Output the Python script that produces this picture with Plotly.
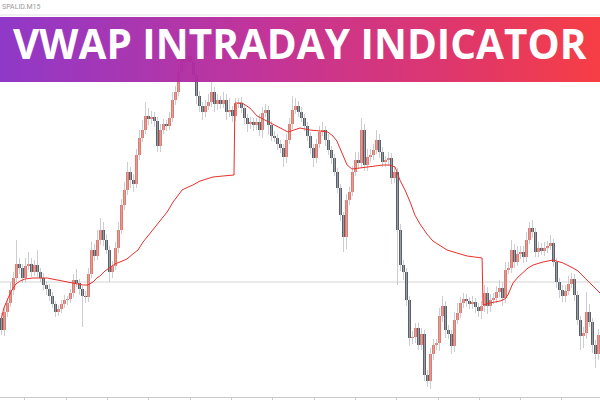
import plotly.graph_objects as go

# ---------------- data ----------------
first_open = 82
closes = [
    70, 88, 97, 110, 122, 136, 132, 122, 134, 136,
    128, 135, 128, 122, 115, 111, 104, 96, 88, 91,
    96, 100, 101, 107, 120, 117, 111, 104, 103, 126,
    150, 144, 160, 170, 160, 150, 128, 134, 152, 170,
    195, 210, 228, 220, 216, 245, 262, 270, 284, 281,
    283, 279, 254, 270, 276, 274, 282, 300, 308, 328,
    342, 338, 344, 338, 325, 304, 294, 288, 294, 298,
    308, 296, 300, 296, 300, 288, 290, 284, 296, 297,
    292, 282, 276, 278, 275, 278, 270, 287, 290, 275,
    264, 262, 256, 252, 243, 260, 276, 290, 294, 288,
    282, 274, 264, 252, 242, 256, 268, 270, 260, 250,
    242, 228, 212, 185, 163, 200, 208, 228, 240, 237,
    270, 235, 243, 245, 250, 260, 248, 238, 240, 242,
    222, 228, 170, 135, 128, 100, 62, 63, 72, 55,
    66, 25, 19, 46, 55, 57, 84, 94, 70, 66,
    54, 80, 87, 97, 101, 99, 96, 98, 93, 89,
    94, 107, 94, 100, 102, 108, 112, 102, 130, 132,
    150, 138, 146, 148, 143, 160, 172, 168, 148, 152,
    149, 152, 154, 157, 138, 118, 110, 104, 109, 116,
    121, 105, 80, 64, 67, 88, 78, 55, 46, 65,
]
upper_wick = [
    5, 6, 4, 8, 6, 24, 6, 4, 8, 12,
    6, 5, 15, 4, 5, 4, 5, 4, 3, 4,
    4, 5, 3, 4, 6, 11, 4, 3, 5, 6,
    8, 6, 10, 12, 8, 6, 4, 5, 6, 8,
    6, 8, 10, 5, 6, 6, 8, 10, 14, 8,
    6, 5, 4, 6, 5, 4, 6, 8, 6, 8,
    10, 12, 8, 6, 6, 8, 5, 4, 6, 8,
    10, 5, 6, 4, 8, 6, 12, 4, 6, 5,
    6, 4, 4, 5, 4, 4, 8, 6, 6, 4,
    4, 5, 4, 4, 4, 6, 6, 14, 8, 5,
    5, 4, 4, 4, 4, 5, 6, 8, 4, 6,
    4, 4, 4, 4, 3, 6, 5, 6, 8, 8,
    12, 6, 8, 6, 6, 10, 6, 5, 4, 6,
    5, 6, 4, 6, 5, 4, 4, 6, 5, 5,
    6, 4, 5, 6, 6, 4, 8, 10, 5, 5,
    4, 8, 10, 6, 6, 5, 4, 6, 4, 4,
    5, 8, 6, 6, 5, 6, 8, 6, 8, 6,
    10, 6, 8, 6, 6, 8, 6, 8, 4, 6,
    5, 6, 5, 8, 4, 4, 4, 5, 6, 8,
    6, 5, 4, 4, 6, 20, 8, 4, 5, 6,
]
lower_wick = [
    5, 6, 5, 4, 5, 4, 6, 5, 4, 4,
    5, 4, 5, 4, 5, 6, 5, 4, 5, 4,
    4, 4, 5, 4, 4, 4, 6, 31, 6, 5,
    4, 5, 4, 5, 6, 4, 10, 6, 4, 5,
    4, 5, 5, 8, 8, 4, 5, 4, 4, 6,
    5, 6, 6, 6, 4, 5, 4, 4, 5, 4,
    4, 6, 5, 6, 6, 8, 6, 8, 5, 4,
    5, 8, 6, 5, 4, 8, 5, 6, 5, 4,
    5, 6, 8, 5, 6, 5, 6, 8, 4, 10,
    5, 4, 6, 5, 10, 6, 4, 5, 4, 5,
    4, 5, 5, 6, 9, 5, 4, 4, 6, 5,
    6, 4, 5, 6, 15, 12, 5, 4, 4, 6,
    5, 6, 6, 5, 5, 4, 6, 5, 5, 6,
    6, 5, 55, 6, 8, 6, 8, 6, 6, 5,
    5, 6, 6, 8, 6, 5, 8, 6, 8, 5,
    8, 6, 4, 5, 5, 6, 5, 5, 6, 6,
    8, 6, 8, 6, 4, 5, 5, 8, 5, 4,
    5, 6, 4, 5, 6, 5, 4, 6, 5, 5,
    4, 5, 5, 4, 5, 6, 8, 6, 6, 4,
    4, 6, 5, 14, 12, 6, 5, 8, 14, 6,
]
vwap_bar = [
    0, 0.8, 2.2, 3.5, 4.8, 6.2, 7.8, 10.5, 15.2, 18.5, 22.8, 27.2, 28.8, 30.5,
    31.8, 32.8, 34.5, 36.2, 37.8, 39.5, 41.8, 43.8, 45.5, 47.2, 48.8, 50.5,
    52.8, 55.2, 57.2, 58.8, 60.2, 62.2, 63.8, 66.2, 68.5, 70.5, 73.8, 77.5,
    77.8, 80.2, 82.8, 85.2, 87.8, 91.8, 95.5, 99.5, 102.8, 106.2, 108.8, 110.5,
    111.8, 113.5, 115.2, 116.8, 119.5, 121.8, 124.5, 127.2, 129.5, 131.2, 132.8,
    134.5, 136.2, 137.8, 139.5, 141.8, 143.8, 146.2, 148.5, 151.8, 155.2, 157.8,
    160.2,
    160.5, 162.8, 166.2, 167.8, 168.8, 170.5, 172.2, 173.8, 175.5, 177.2, 180.5,
    183.8, 187.2, 190.5, 192.2, 193.8, 195.5, 197.2, 199.5,
]
vwap_val = [
    82, 92, 102, 110, 116, 119, 121, 122, 122, 120, 118, 115, 115, 118,
    122, 124, 129, 133, 136, 138, 141, 146, 150, 158, 164, 170,
    179, 188, 198, 205, 210, 213, 215, 219, 221, 223, 224, 225,
    297, 297, 292, 284, 280, 274, 268, 272, 270, 269, 268, 264,
    259, 247, 235, 231, 232, 233, 234, 235, 235, 233, 220,
    210, 198, 185, 176, 166, 159, 154, 150, 147, 144, 143,
    142,
    95, 97, 99, 101, 105, 117, 123, 127, 132, 135, 138,
    140, 137, 132, 129, 124, 119, 113, 107,
]
ref_price = 118
tick_bars = [7.8, 21.6, 35.4, 49.1, 62.9, 76.7, 90.4, 104.2, 118.0, 131.7,
             145.5, 159.3, 173.0, 186.8]
title_text = "VWAP INTRADAY INDICATOR"
symbol_text = "SPALID.M15"

# ---------------- derived ----------------
n = len(closes)
idx = list(range(n))
opens = [first_open] + closes[:-1]
highs = [max(o, c) + w for o, c, w in zip(opens, closes, upper_wick)]
lows = [min(o, c) - w for o, c, w in zip(opens, closes, lower_wick)]

UP = "#ef7666"
DOWN = "#5a5f68"
body_base = [min(o, c) for o, c in zip(opens, closes)]
body_h = [max(abs(c - o), 1) for o, c in zip(opens, closes)]
body_col = [UP if c >= o else DOWN for o, c in zip(opens, closes)]

wx, wy = [], []
for i, lo, hi in zip(idx, lows, highs):
    wx += [i, i, None]
    wy += [lo, hi, None]

fig = go.Figure()
fig.add_trace(go.Scatter(x=wx, y=wy, mode="lines",
                         line=dict(color="rgba(180,185,192,0.7)", width=1),
                         hoverinfo="skip", showlegend=False))
fig.add_trace(go.Bar(x=idx, y=body_h, base=body_base, width=0.75,
                     marker=dict(color=body_col, line=dict(width=0)),
                     showlegend=False))
fig.add_trace(go.Scatter(x=vwap_bar, y=vwap_val, mode="lines",
                         line=dict(color="#e8302c", width=1),
                         showlegend=False))

# banner (decoration) on overlay axes in pixel units
fig.add_trace(go.Scatter(x=[0, 600, 600, 0, 0], y=[318, 318, 383, 383, 318],
                         mode="lines", fill="toself", line=dict(width=0),
                         fillgradient=dict(type="horizontal",
                                           colorscale=[[0, "#8a2ec6"], [0.45, "#c02a92"],
                                                       [0.75, "#dc2c66"], [1, "#f6343a"]]),
                         opacity=0.95, xaxis="x2", yaxis="y2",
                         hoverinfo="skip", showlegend=False))

fig.update_layout(
    width=600, height=400,
    margin=dict(l=0, r=0, t=0, b=3),
    paper_bgcolor="white", plot_bgcolor="white",
    bargap=0,
    xaxis=dict(range=[-0.5, n - 0.5], showgrid=False, zeroline=False,
               showline=True, linecolor="#c9c9c9", linewidth=1,
               ticks="outside", ticklen=3, tickcolor="#c9c9c9",
               tickvals=tick_bars, showticklabels=False),
    yaxis=dict(range=[3, 400], visible=False),
    xaxis2=dict(range=[0, 600], overlaying="x", visible=False),
    yaxis2=dict(range=[3, 400], overlaying="y", visible=False),
    shapes=[
        dict(type="line", xref="paper", x0=0, x1=1, yref="y", y0=ref_price, y1=ref_price,
             line=dict(color="#d4d4d4", width=1), layer="below"),
        dict(type="line", xref="paper", x0=0, x1=1, yref="y2", y0=385, y1=385,
             line=dict(color="#e2e2e2", width=1)),
    ],
    annotations=[
        dict(text=title_text, xref="x2", yref="y2", x=300, y=357,
             showarrow=False, xanchor="center", yanchor="middle",
             font=dict(family="Open Sans", size=40.5, color="white", weight=700)),
        dict(text=symbol_text, xref="x2", yref="y2", x=0, y=393,
             showarrow=False, xanchor="left", yanchor="middle",
             font=dict(family="Roboto", size=7, color="#9a9a9a")),
    ],
)

fig.write_html("out.html", config={"displayModeBar": False},
               post_script="document.body.style.margin='0';document.body.style.overflow='hidden';")
